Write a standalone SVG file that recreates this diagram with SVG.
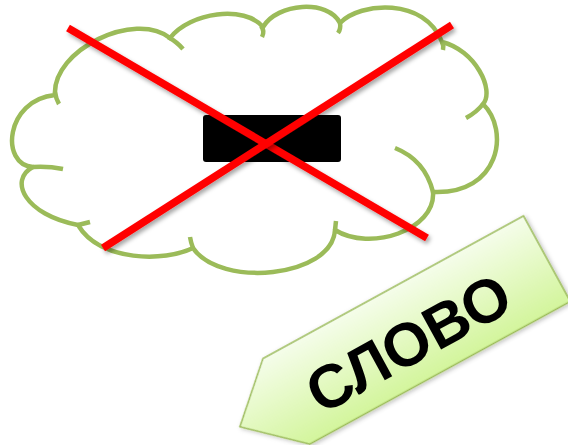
<svg xmlns="http://www.w3.org/2000/svg" width="568" height="445" viewBox="0 0 568 445">
  <defs>
    <style>
      .cloud{fill:#ffffff;stroke:#9bbb59;stroke-width:4.5;stroke-linejoin:round}
      .hook{fill:none;stroke:#9bbb59;stroke-width:4.5;stroke-linecap:butt}
      .cross{stroke:#ff0000;stroke-width:7.5;stroke-linecap:butt;filter:url(#shadow)}
      .word{font-family:"Liberation Sans",Arial,sans-serif;font-weight:bold;font-size:61px;fill:#000000}
    </style>
    <filter id="shadow" x="-10%" y="-10%" width="120%" height="130%">
      <feDropShadow dx="2" dy="3" stdDeviation="2" flood-color="#000000" flood-opacity="0.35"/>
    </filter>
    <filter id="shadow2" x="-10%" y="-10%" width="120%" height="130%">
      <feDropShadow dx="1" dy="2" stdDeviation="2" flood-color="#000000" flood-opacity="0.25"/>
    </filter>
    <linearGradient id="arrowFill" x1="0" y1="0" x2="0" y2="1">
      <stop offset="0" stop-color="#f5fdea"/>
      <stop offset="1" stop-color="#d3f59c"/>
    </linearGradient>
  </defs>

  <g id="cloud">
    <path class="cloud" d="M55,95 C52,50 135,10 170,38 C190,12 245,5 263,27 C277,3 328,-1 340,23 C360,2 425,-3 442,42 C475,50 495,90 483,104 C510,130 500,195 433,192 C436,230 370,252 335,230 C332,278 220,288 193,248 C165,262 100,262 78,225 C25,215 8,180 33,167 C0,165 5,100 55,95 Z"/>
    <path class="hook" d="M55,92 Q56,99 59,104"/>
    <path class="hook" d="M168,37 Q177,42 183,49"/>
    <path class="hook" d="M261,26 Q265,31 262,37"/>
    <path class="hook" d="M340,23 Q341,29 338,33"/>
    <path class="hook" d="M442,42 Q444,46 443,50"/>
    <path class="hook" d="M483,104 Q477,112 466,118"/>
    <path class="hook" d="M395,148 Q425,160 433,192"/>
    <path class="hook" d="M335,230 L336,221"/>
    <path class="hook" d="M193,248 Q191,243 190,237"/>
    <path class="hook" d="M78,225 L90,222"/>
    <path class="hook" d="M33,167 Q48,166 63,169"/>
  </g>

  <g id="blank">
    <rect x="203" y="115" width="138" height="47" rx="3" fill="#000000"/>
  </g>

  <g id="cross">
    <line class="cross" x1="68" y1="28" x2="427" y2="238"/>
    <line class="cross" x1="103" y1="248" x2="452" y2="25"/>
  </g>

  <g id="word-arrow" transform="translate(216.5,384) rotate(-28.7)">
    <polygon points="53,0 350,0 350,97.5 53,97.5 0,48.75" fill="url(#arrowFill)" stroke="#9bbb59" stroke-width="1.5" stroke-linejoin="miter" filter="url(#shadow2)"/>
    <text class="word" x="188" y="77.5" text-anchor="middle">СЛОВО</text>
  </g>
</svg>
